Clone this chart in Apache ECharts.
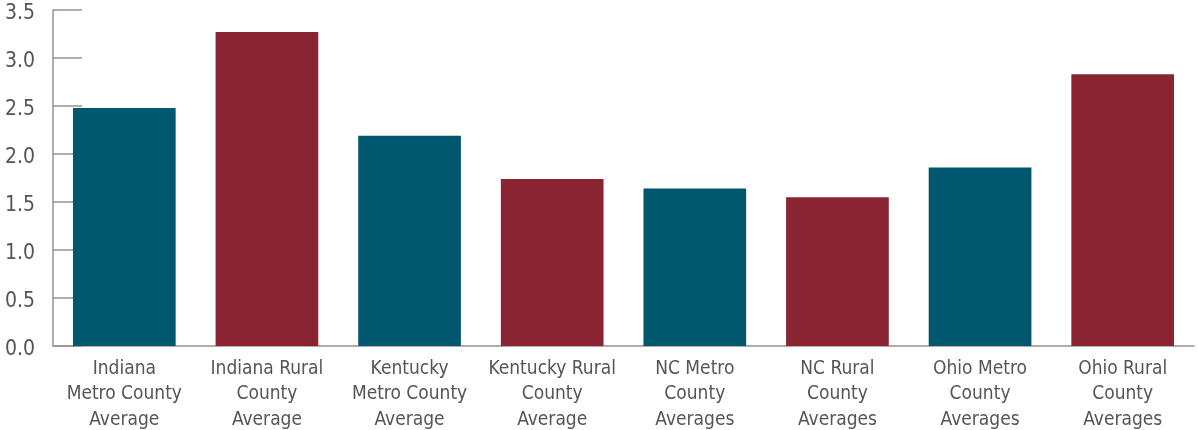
<!DOCTYPE html>
<html><head><meta charset="utf-8">
<script src="https://cdn.jsdelivr.net/npm/echarts@6/dist/echarts.min.js"></script>
<style>html,body{margin:0;padding:0;background:#fff}#c{width:1198px;height:430px}</style>
</head><body><div id="c"></div>
<script>
const categories = ["Indiana\nMetro County\nAverage","Indiana Rural\nCounty\nAverage","Kentucky\nMetro County\nAverage","Kentucky Rural\nCounty\nAverage","NC Metro\nCounty\nAverages","NC Rural\nCounty\nAverages","Ohio Metro\nCounty\nAverages","Ohio Rural\nCounty\nAverages"];
const values = [2.48, 3.27, 2.19, 1.74, 1.64, 1.55, 1.86, 2.83];
const barColors = ["#00586f","#8a2432","#00586f","#8a2432","#00586f","#8a2432","#00586f","#8a2432"];
const yTicks = {min:0, max:3.5, interval:0.5};
const font = "'Liberation Sans Narrow','DejaVu Sans Condensed',sans-serif";
const chart = echarts.init(document.getElementById('c'));
chart.setOption({
  animation:false,
  grid:{left:53,right:4,top:10,bottom:84,containLabel:false,outerBoundsMode:'none'},
  xAxis:{type:'category',data:categories,
    axisLine:{lineStyle:{color:'#9a9090',width:1.5}},
    axisTick:{inside:true,length:8,lineStyle:{color:'#9a9090',width:1.5}},
    axisLabel:{color:'#555555',fontFamily:font,fontSize:19,lineHeight:25.5,margin:10,interval:0}},
  yAxis:{type:'value',min:yTicks.min,max:yTicks.max,interval:yTicks.interval,
    axisLine:{show:true,lineStyle:{color:'#9a9090',width:1.5}},
    axisTick:{show:true,inside:true,length:29,lineStyle:{color:'#9a9090',width:1.5}},
    splitLine:{show:false},
    axisLabel:{color:'#555555',fontFamily:font,fontSize:21,margin:18,verticalAlign:'top',lineHeight:8,formatter:v=>v.toFixed(1)}},
  series:[{type:'bar',barWidth:'72%',data:values.map((v,i)=>({value:v,itemStyle:{color:barColors[i]}}))}]
});
</script></body></html>
